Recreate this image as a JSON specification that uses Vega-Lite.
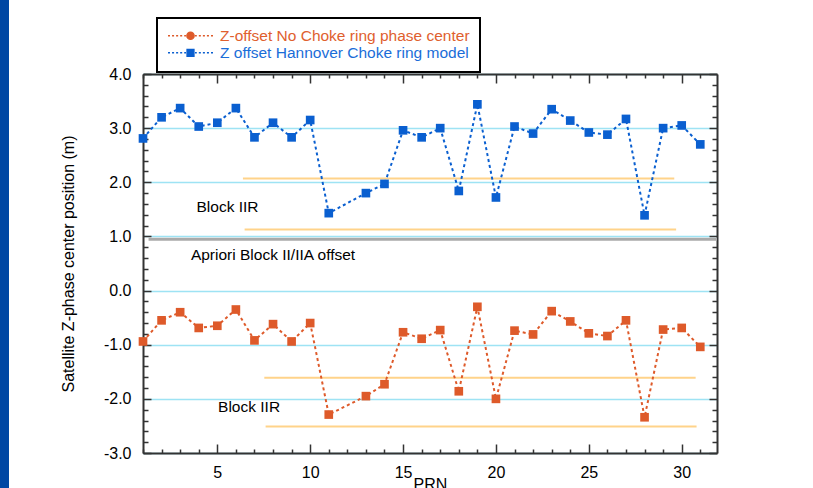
{
  "$schema": "https://vega.github.io/schema/vega-lite/v6.json",
  "width": 574,
  "height": 379,
  "autosize": "none",
  "padding": {"left": 143, "top": 74, "right": 96, "bottom": 35},
  "background": "#0047a3",
  "config": {
    "view": {"fill": "white", "stroke": "white", "strokeWidth": 268},
    "font": "Liberation Sans",
    "legend": {"strokeWidth": 2}
  },
  "datasets": {
    "pts": [
      {"prn": 1, "z": 2.81, "series": "Z offset Hannover Choke ring model"},
      {"prn": 2, "z": 3.20, "series": "Z offset Hannover Choke ring model"},
      {"prn": 3, "z": 3.37, "series": "Z offset Hannover Choke ring model"},
      {"prn": 4, "z": 3.03, "series": "Z offset Hannover Choke ring model"},
      {"prn": 5, "z": 3.10, "series": "Z offset Hannover Choke ring model"},
      {"prn": 6, "z": 3.37, "series": "Z offset Hannover Choke ring model"},
      {"prn": 7, "z": 2.83, "series": "Z offset Hannover Choke ring model"},
      {"prn": 8, "z": 3.10, "series": "Z offset Hannover Choke ring model"},
      {"prn": 9, "z": 2.83, "series": "Z offset Hannover Choke ring model"},
      {"prn": 10, "z": 3.15, "series": "Z offset Hannover Choke ring model"},
      {"prn": 11, "z": 1.43, "series": "Z offset Hannover Choke ring model"},
      {"prn": 13, "z": 1.80, "series": "Z offset Hannover Choke ring model"},
      {"prn": 14, "z": 1.97, "series": "Z offset Hannover Choke ring model"},
      {"prn": 15, "z": 2.96, "series": "Z offset Hannover Choke ring model"},
      {"prn": 16, "z": 2.83, "series": "Z offset Hannover Choke ring model"},
      {"prn": 17, "z": 3.00, "series": "Z offset Hannover Choke ring model"},
      {"prn": 18, "z": 1.84, "series": "Z offset Hannover Choke ring model"},
      {"prn": 19, "z": 3.44, "series": "Z offset Hannover Choke ring model"},
      {"prn": 20, "z": 1.72, "series": "Z offset Hannover Choke ring model"},
      {"prn": 21, "z": 3.03, "series": "Z offset Hannover Choke ring model"},
      {"prn": 22, "z": 2.90, "series": "Z offset Hannover Choke ring model"},
      {"prn": 23, "z": 3.35, "series": "Z offset Hannover Choke ring model"},
      {"prn": 24, "z": 3.14, "series": "Z offset Hannover Choke ring model"},
      {"prn": 25, "z": 2.92, "series": "Z offset Hannover Choke ring model"},
      {"prn": 26, "z": 2.88, "series": "Z offset Hannover Choke ring model"},
      {"prn": 27, "z": 3.17, "series": "Z offset Hannover Choke ring model"},
      {"prn": 28, "z": 1.39, "series": "Z offset Hannover Choke ring model"},
      {"prn": 29, "z": 3.00, "series": "Z offset Hannover Choke ring model"},
      {"prn": 30, "z": 3.05, "series": "Z offset Hannover Choke ring model"},
      {"prn": 31, "z": 2.70, "series": "Z offset Hannover Choke ring model"},
      {"prn": 1, "z": -0.94, "series": "Z-offset No Choke ring phase center"},
      {"prn": 2, "z": -0.55, "series": "Z-offset No Choke ring phase center"},
      {"prn": 3, "z": -0.40, "series": "Z-offset No Choke ring phase center"},
      {"prn": 4, "z": -0.69, "series": "Z-offset No Choke ring phase center"},
      {"prn": 5, "z": -0.65, "series": "Z-offset No Choke ring phase center"},
      {"prn": 6, "z": -0.35, "series": "Z-offset No Choke ring phase center"},
      {"prn": 7, "z": -0.92, "series": "Z-offset No Choke ring phase center"},
      {"prn": 8, "z": -0.62, "series": "Z-offset No Choke ring phase center"},
      {"prn": 9, "z": -0.94, "series": "Z-offset No Choke ring phase center"},
      {"prn": 10, "z": -0.60, "series": "Z-offset No Choke ring phase center"},
      {"prn": 11, "z": -2.29, "series": "Z-offset No Choke ring phase center"},
      {"prn": 13, "z": -1.95, "series": "Z-offset No Choke ring phase center"},
      {"prn": 14, "z": -1.73, "series": "Z-offset No Choke ring phase center"},
      {"prn": 15, "z": -0.77, "series": "Z-offset No Choke ring phase center"},
      {"prn": 16, "z": -0.89, "series": "Z-offset No Choke ring phase center"},
      {"prn": 17, "z": -0.73, "series": "Z-offset No Choke ring phase center"},
      {"prn": 18, "z": -1.86, "series": "Z-offset No Choke ring phase center"},
      {"prn": 19, "z": -0.30, "series": "Z-offset No Choke ring phase center"},
      {"prn": 20, "z": -2.00, "series": "Z-offset No Choke ring phase center"},
      {"prn": 21, "z": -0.74, "series": "Z-offset No Choke ring phase center"},
      {"prn": 22, "z": -0.81, "series": "Z-offset No Choke ring phase center"},
      {"prn": 23, "z": -0.38, "series": "Z-offset No Choke ring phase center"},
      {"prn": 24, "z": -0.57, "series": "Z-offset No Choke ring phase center"},
      {"prn": 25, "z": -0.79, "series": "Z-offset No Choke ring phase center"},
      {"prn": 26, "z": -0.84, "series": "Z-offset No Choke ring phase center"},
      {"prn": 27, "z": -0.55, "series": "Z-offset No Choke ring phase center"},
      {"prn": 28, "z": -2.34, "series": "Z-offset No Choke ring phase center"},
      {"prn": 29, "z": -0.72, "series": "Z-offset No Choke ring phase center"},
      {"prn": 30, "z": -0.69, "series": "Z-offset No Choke ring phase center"},
      {"prn": 31, "z": -1.04, "series": "Z-offset No Choke ring phase center"}
    ],
    "bands": [
      {"x1": 6.38, "x2": 29.6, "y": 2.07},
      {"x1": 6.47, "x2": 29.7, "y": 1.13},
      {"x1": 7.53, "x2": 30.75, "y": -1.61},
      {"x1": 7.6, "x2": 30.8, "y": -2.51}
    ],
    "apriori": [
      {"x1": 1.3, "x2": 31.9, "y": 0.95}
    ],
    "notes": [
      {"x": 5.55, "y": 1.55, "label": "Block IIR"},
      {"x": 8.0, "y": 0.66, "label": "Apriori Block II/IIA offset"},
      {"x": 6.71, "y": -2.15, "label": "Block IIR"}
    ]
  },
  "resolve": {
    "axis": {"x": "independent", "y": "independent"},
    "scale": {"shape": "independent"}
  },
  "layer": [
    {
      "data": {"name": "bands"},
      "mark": {"type": "rule", "color": "#ffd38a", "strokeWidth": 2},
      "encoding": {
        "x": {
          "field": "x1", "type": "quantitative",
          "scale": {"domain": [1, 31.9], "nice": false, "zero": false},
          "axis": {
            "orient": "bottom",
            "values": [5, 10, 15, 20, 25, 30],
            "title": "PRN",
            "titleFontSize": 16, "titleFontWeight": "normal", "titleColor": "black", "titlePadding": -4,
            "labelFontSize": 16, "labelColor": "black", "labelPadding": 20,
            "labelOverlap": false, "labelFlush": false,
            "tickSize": -9, "tickColor": "#333333", "tickWidth": 1.5,
            "domainColor": "#333333", "domainWidth": 2,
            "grid": false
          }
        },
        "x2": {"field": "x2"},
        "y": {
          "field": "y", "type": "quantitative",
          "scale": {"domain": [-3, 4], "nice": false, "zero": false},
          "axis": {
            "orient": "left",
            "values": [-3, -2, -1, 0, 1, 2, 3, 4],
            "title": "Satellite Z-phase center position (m)",
            "titleFontSize": 16, "titleFontWeight": "normal", "titleColor": "black", "titlePadding": 26.5,
            "labelExpr": "(datum.value < 0 ? '-' : '') + format(abs(datum.value), '.1f')",
            "labelFontSize": 16, "labelColor": "black", "labelPadding": 20,
            "labelOverlap": false, "labelFlush": false,
            "tickSize": -8, "tickColor": "#333333", "tickWidth": 1.5,
            "domainColor": "#333333", "domainWidth": 2,
            "grid": true, "gridColor": "#3cc6e8", "gridDash": [1, 1], "gridWidth": 1.3
          }
        }
      }
    },
    {
      "data": {"name": "apriori"},
      "mark": {"type": "rule", "color": "#aaaaaa", "strokeWidth": 3},
      "encoding": {
        "x": {
          "field": "x1", "type": "quantitative",
          "axis": {
            "orient": "top", "values": [5, 10, 15, 20, 25, 30],
            "title": null, "labels": false,
            "tickSize": -9, "tickColor": "#333333", "tickWidth": 1.5,
            "domainColor": "#333333", "domainWidth": 2, "grid": false
          }
        },
        "x2": {"field": "x2"},
        "y": {
          "field": "y", "type": "quantitative",
          "axis": {
            "orient": "right", "values": [-3, -2, -1, 0, 1, 2, 3, 4],
            "title": null, "labels": false,
            "tickSize": -8, "tickColor": "#333333", "tickWidth": 1.5,
            "domainColor": "#333333", "domainWidth": 2, "grid": false
          }
        }
      }
    },
    {
      "data": {"name": "pts"},
      "mark": {"type": "line", "strokeWidth": 2, "strokeDash": [3, 3]},
      "encoding": {
        "x": {
          "field": "prn", "type": "quantitative",
          "axis": {
            "orient": "bottom",
            "values": [1,2,3,4,6,7,8,9,11,12,13,14,16,17,18,19,21,22,23,24,26,27,28,29,31],
            "title": null, "labels": false, "domain": false, "grid": false,
            "tickSize": -4, "tickColor": "#333333", "tickWidth": 1.5
          }
        },
        "y": {
          "field": "z", "type": "quantitative",
          "axis": {
            "orient": "left",
            "values": [-2.8,-2.6,-2.4,-2.2,-1.8,-1.6,-1.4,-1.2,-0.8,-0.6,-0.4,-0.2,0.2,0.4,0.6,0.8,1.2,1.4,1.6,1.8,2.2,2.4,2.6,2.8,3.2,3.4,3.6,3.8],
            "title": null, "labels": false, "domain": false, "grid": false,
            "tickSize": -5, "tickColor": "#333333", "tickWidth": 1.5
          }
        },
        "color": {
          "field": "series", "type": "nominal",
          "scale": {"domain": ["Z-offset No Choke ring phase center", "Z offset Hannover Choke ring model"], "range": ["#de5a2a", "#0a5fd0"]},
          "legend": null
        }
      }
    },
    {
      "data": {"name": "pts"},
      "mark": {"type": "point", "filled": true, "opacity": 1},
      "encoding": {
        "x": {
          "field": "prn", "type": "quantitative",
          "axis": {
            "orient": "top",
            "values": [1,2,3,4,6,7,8,9,11,12,13,14,16,17,18,19,21,22,23,24,26,27,28,29,31],
            "title": null, "labels": false, "domain": false, "grid": false,
            "tickSize": -4, "tickColor": "#333333", "tickWidth": 1.5
          }
        },
        "y": {
          "field": "z", "type": "quantitative",
          "axis": {
            "orient": "right",
            "values": [-2.8,-2.6,-2.4,-2.2,-1.8,-1.6,-1.4,-1.2,-0.8,-0.6,-0.4,-0.2,0.2,0.4,0.6,0.8,1.2,1.4,1.6,1.8,2.2,2.4,2.6,2.8,3.2,3.4,3.6,3.8],
            "title": null, "labels": false, "domain": false, "grid": false,
            "tickSize": -5, "tickColor": "#333333", "tickWidth": 1.5
          }
        },
        "color": {"field": "series", "type": "nominal", "legend": null},
        "shape": {
          "field": "series", "type": "nominal",
          "scale": {"domain": ["Z-offset No Choke ring phase center", "Z offset Hannover Choke ring model"], "range": ["square", "square"]},
          "legend": null
        },
        "size": {"value": 75}
      }
    },
    {
      "data": {"name": "pts"},
      "transform": [{"filter": "false"}],
      "mark": {"type": "point", "filled": true, "opacity": 1, "strokeWidth": 1.5},
      "encoding": {
        "x": {"field": "prn", "type": "quantitative", "axis": null},
        "y": {"field": "z", "type": "quantitative", "axis": null},
        "fill": {
          "field": "series", "type": "nominal",
          "scale": {"domain": ["Z-offset No Choke ring phase center", "Z offset Hannover Choke ring model"], "range": ["#de5a2a", "#0a5fd0"]},
          "legend": null
        },
        "stroke": {
          "field": "series", "type": "nominal",
          "scale": {"domain": ["Z-offset No Choke ring phase center", "Z offset Hannover Choke ring model"], "range": ["#de5a2a", "#0a5fd0"]},
          "legend": null
        },
        "shape": {
          "field": "series", "type": "nominal",
          "scale": {
            "domain": ["Z-offset No Choke ring phase center", "Z offset Hannover Choke ring model"],
            "range": [
              "M-1,0H-0.91M-0.82,0H-0.73M-0.64,0H-0.55M-0.46,0H-0.37M-0.28,0H-0.2M0.2,0H0.28M0.37,0H0.46M0.55,0H0.64M0.73,0H0.82M0.91,0H1M-0.16,0A0.16,0.16 0 1 1 0.16,0A0.16,0.16 0 1 1 -0.16,0Z",
              "M-1,0H-0.91M-0.82,0H-0.73M-0.64,0H-0.55M-0.46,0H-0.37M-0.28,0H-0.2M0.2,0H0.28M0.37,0H0.46M0.55,0H0.64M0.73,0H0.82M0.91,0H1M-0.15,-0.15H0.15V0.15H-0.15Z"
            ]
          },
          "legend": {
            "title": null,
            "orient": "none", "legendX": 14, "legendY": -56,
            "direction": "vertical",
            "fillColor": "white", "strokeColor": "black",
            "padding": 10,
            "symbolSize": 2025, "symbolStrokeWidth": 1.5, "symbolOpacity": 1,
            "symbolFillColor": {"expr": "datum.value === 'Z-offset No Choke ring phase center' ? '#de5a2a' : '#0a5fd0'"},
            "symbolStrokeColor": {"expr": "datum.value === 'Z-offset No Choke ring phase center' ? '#de5a2a' : '#0a5fd0'"},
            "labelFontSize": 15.5, "labelOffset": 6, "labelLimit": 400,
            "labelColor": {"expr": "datum.value === 'Z-offset No Choke ring phase center' ? '#e0602e' : '#1a6dd8'"},
            "clipHeight": 15.5, "rowPadding": 0
          }
        },
        "size": {"value": 2025}
      }
    },
    {
      "data": {"name": "notes"},
      "mark": {"type": "text", "fontSize": 15.5, "color": "black", "align": "center", "baseline": "middle"},
      "encoding": {
        "x": {"field": "x", "type": "quantitative", "axis": null},
        "y": {"field": "y", "type": "quantitative", "axis": null},
        "text": {"field": "label"}
      }
    }
  ]
}
